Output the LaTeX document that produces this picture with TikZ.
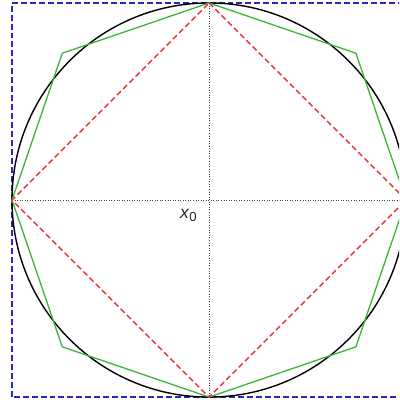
\documentclass[tikz,border=0pt]{standalone}
\usepackage{fontspec}
\setmainfont{Liberation Sans}
\definecolor{polygreen}{RGB}{60,180,60}
\definecolor{diamondred}{RGB}{230,50,50}
\definecolor{boxblue}{RGB}{40,40,190}
\begin{document}
\begin{tikzpicture}[
    x=3.94cm, y=3.94cm,
    axisline/.style={black!75, densely dotted, line width=0.45pt},
    unitcircle/.style={black, line width=0.8pt},
    octagon/.style={polygreen, line width=0.75pt},
    diamond/.style={diamondred, dash pattern=on 3.2pt off 1.8pt, line width=0.8pt},
    frame/.style={boxblue, dash pattern=on 3.4pt off 1.7pt, line width=0.85pt}
]

    % Geometry parameters
    % radius R = 1, diagonal corners of the octagon at (+-D, +-D)
    \def\R{1}
    \def\D{0.745}

    % Picture size (cropped on the right)
    \useasboundingbox (-1.061,-1.030) rectangle (0.964,1.015);
    \clip (-1.061,-1.030) rectangle (0.964,1.015);

    % Named points
    \coordinate (c) at (0,0);
    \coordinate (top) at (0,\R);
    \coordinate (bot) at (0,-\R);
    \coordinate (lft) at (-\R,0);
    \coordinate (rgt) at (\R,0);

    % Dashed frame
    \draw[frame] (-\R,-\R) rectangle (\R,\R);

    % Axes through x_0
    \draw[axisline] (lft) -- (rgt);
    \draw[axisline] (top) -- (bot);

    % Circle
    \draw[unitcircle] (c) circle (\R);

    % Green octagon
    \draw[octagon] (top) -- (\D,\D) -- (rgt) -- (\D,-\D) -- (bot)
        -- (-\D,-\D) -- (lft) -- (-\D,\D) -- cycle;

    % Red diamond
    \draw[diamond] (top) -- (rgt) -- (bot) -- (lft) -- cycle;

    % Centre label
    \node[font=\fontsize{10}{12}\selectfont, text=black!85, inner sep=0pt] (xzero) at (-0.105,-0.078)
        {\textit{x}\raisebox{-0.35ex}{\fontsize{7.5}{9}\selectfont 0}};

\end{tikzpicture}
\end{document}
